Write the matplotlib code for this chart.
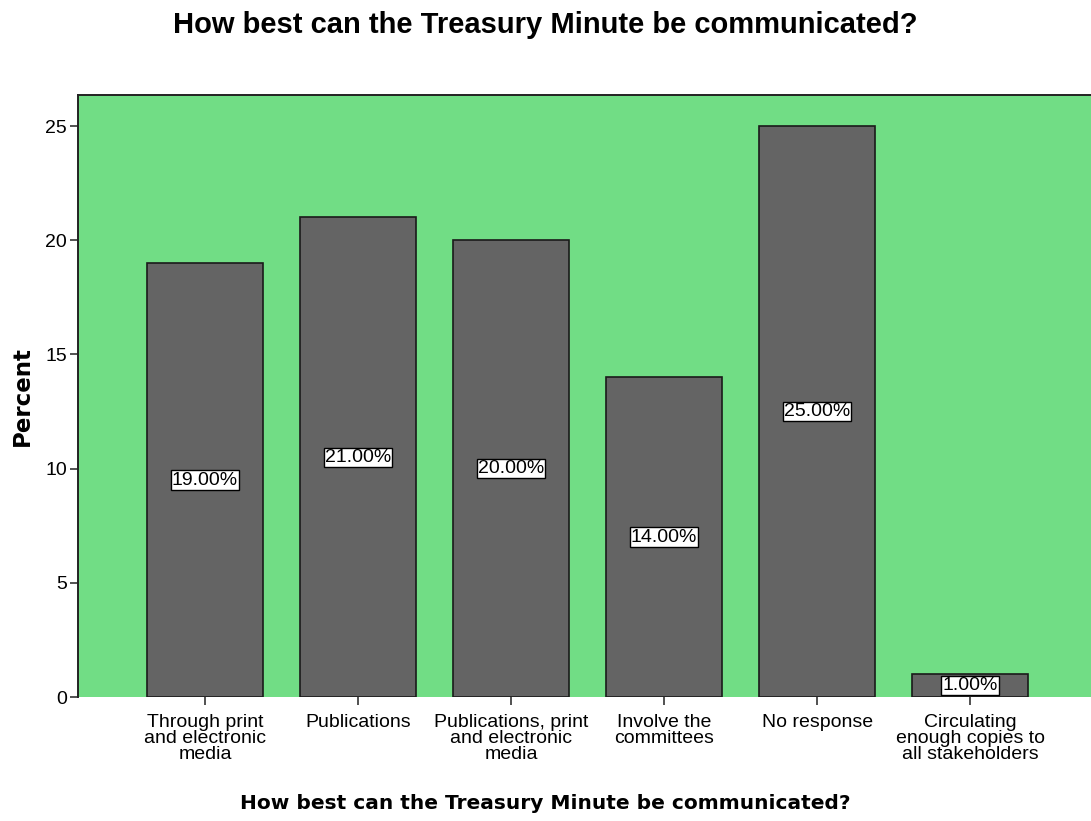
import matplotlib
matplotlib.use('Agg')
import matplotlib.pyplot as plt

categories = [
    "Through print\nand electronic\nmedia",
    "Publications",
    "Publications, print\nand electronic\nmedia",
    "Involve the\ncommittees",
    "No response",
    "Circulating\nenough copies to\nall stakeholders",
]
percent = [19.0, 21.0, 20.0, 14.0, 25.0, 1.0]
yticks = [0, 5, 10, 15, 20, 25]

titulo = "How best can the Treasury Minute be communicated?"

fig = plt.figure(figsize=(10.91, 8.21), dpi=100)
ax = fig.add_axes([78 / 1091, 1 - 697 / 821, 1 - 78 / 1091, (697 - 95) / 821])
ax.set_facecolor('#71dd85')

pos = list(range(len(categories)))
ax.bar(pos, percent, width=0.76, color='#646464', edgecolor='#1a1a1a', linewidth=1.2, zorder=2)

for x, v in zip(pos, percent):
    ax.text(x, v / 2, f"{v:.2f}%", ha='center', va='center', fontsize=14,
            family='Liberation Sans', color='black', zorder=3,
            bbox=dict(boxstyle='square,pad=0.06', facecolor='white', edgecolor='black', linewidth=1))

ax.set_xlim(-0.83, 5.79)
ax.set_ylim(0, 26.36)
ax.set_yticks(yticks)
ax.set_yticklabels([str(t) for t in yticks], family='Liberation Sans', fontsize=14)
ax.set_xticks(pos)
ax.set_xticklabels(categories, family='Liberation Sans', fontsize=14, linespacing=0.95)
ax.tick_params(axis='both', length=6, width=1.2, color='#333333')
ax.tick_params(axis='x', pad=6)
ax.tick_params(axis='y', pad=2)

for s in ['right', 'bottom']:
    ax.spines[s].set_visible(False)
for s in ['left', 'top']:
    ax.spines[s].set_color('#222222')
    ax.spines[s].set_linewidth(1.4)

ax.set_ylabel("Percent", family='DejaVu Sans', fontweight='bold', fontsize=16.5, labelpad=8)
fig.text(0.5, 1 - 25 / 821, titulo, ha='center', va='center', family='Liberation Sans',
         fontweight='bold', fontsize=21)
fig.text(0.5, 1 - 803 / 821, titulo, ha='center', va='center', family='DejaVu Sans',
         fontweight='bold', fontsize=14.5)

fig.savefig('out.png', dpi=100)
